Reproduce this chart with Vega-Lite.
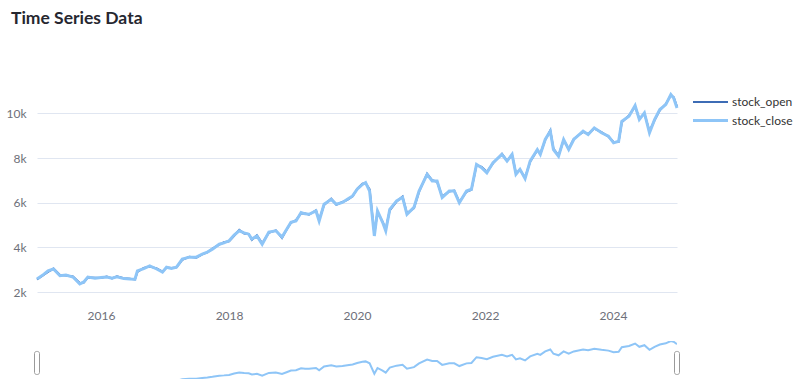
{
  "$schema": "https://vega.github.io/schema/vega-lite/v6.json",
  "background": "white",
  "padding": {"left": 5, "top": 10, "right": 0, "bottom": 0},
  "title": {"text": "Time Series Data", "anchor": "start", "font": "Lato", "fontSize": 17.5, "fontWeight": "bold", "color": "#262730", "offset": 61, "dx": 5},
  "config": {"view": {"stroke": null}, "font": "Lato"},
  "spacing": 20,
  "datasets": {
    "stock": [
      {"date": "2015-01-01", "stock_open": 2560, "stock_close": 2580},
      {"date": "2015-02-10", "stock_open": 2780, "stock_close": 2800},
      {"date": "2015-03-05", "stock_open": 2900, "stock_close": 2950},
      {"date": "2015-04-05", "stock_open": 3050, "stock_close": 3030},
      {"date": "2015-05-12", "stock_open": 2760, "stock_close": 2730},
      {"date": "2015-06-15", "stock_open": 2740, "stock_close": 2760},
      {"date": "2015-07-25", "stock_open": 2700, "stock_close": 2670},
      {"date": "2015-09-02", "stock_open": 2400, "stock_close": 2360},
      {"date": "2015-09-25", "stock_open": 2420, "stock_close": 2450},
      {"date": "2015-10-18", "stock_open": 2650, "stock_close": 2670},
      {"date": "2015-11-28", "stock_open": 2640, "stock_close": 2620},
      {"date": "2016-01-01", "stock_open": 2630, "stock_close": 2650},
      {"date": "2016-02-03", "stock_open": 2690, "stock_close": 2670},
      {"date": "2016-03-04", "stock_open": 2610, "stock_close": 2620},
      {"date": "2016-04-01", "stock_open": 2700, "stock_close": 2680},
      {"date": "2016-05-10", "stock_open": 2620, "stock_close": 2600},
      {"date": "2016-06-15", "stock_open": 2590, "stock_close": 2580},
      {"date": "2016-07-13", "stock_open": 2560, "stock_close": 2570},
      {"date": "2016-07-27", "stock_open": 2900, "stock_close": 2950},
      {"date": "2016-09-01", "stock_open": 3080, "stock_close": 3050},
      {"date": "2016-10-05", "stock_open": 3140, "stock_close": 3170},
      {"date": "2016-11-14", "stock_open": 3060, "stock_close": 3030},
      {"date": "2016-12-17", "stock_open": 2910, "stock_close": 2890},
      {"date": "2017-01-09", "stock_open": 3090, "stock_close": 3110},
      {"date": "2017-02-06", "stock_open": 3070, "stock_close": 3050},
      {"date": "2017-03-07", "stock_open": 3100, "stock_close": 3110},
      {"date": "2017-04-09", "stock_open": 3440, "stock_close": 3470},
      {"date": "2017-05-19", "stock_open": 3580, "stock_close": 3560},
      {"date": "2017-06-28", "stock_open": 3540, "stock_close": 3560},
      {"date": "2017-08-01", "stock_open": 3690, "stock_close": 3700},
      {"date": "2017-08-30", "stock_open": 3770, "stock_close": 3790},
      {"date": "2017-09-28", "stock_open": 3940, "stock_close": 3920},
      {"date": "2017-11-06", "stock_open": 4120, "stock_close": 4140},
      {"date": "2017-12-03", "stock_open": 4230, "stock_close": 4200},
      {"date": "2018-01-01", "stock_open": 4270, "stock_close": 4290},
      {"date": "2018-01-30", "stock_open": 4520, "stock_close": 4550},
      {"date": "2018-02-28", "stock_open": 4780, "stock_close": 4740},
      {"date": "2018-03-28", "stock_open": 4620, "stock_close": 4650},
      {"date": "2018-04-23", "stock_open": 4600, "stock_close": 4590},
      {"date": "2018-05-11", "stock_open": 4330, "stock_close": 4370},
      {"date": "2018-06-09", "stock_open": 4540, "stock_close": 4510},
      {"date": "2018-07-09", "stock_open": 4180, "stock_close": 4140},
      {"date": "2018-08-16", "stock_open": 4650, "stock_close": 4680},
      {"date": "2018-09-25", "stock_open": 4760, "stock_close": 4740},
      {"date": "2018-10-30", "stock_open": 4420, "stock_close": 4460},
      {"date": "2018-11-25", "stock_open": 4790, "stock_close": 4800},
      {"date": "2018-12-20", "stock_open": 5100, "stock_close": 5120},
      {"date": "2019-01-18", "stock_open": 5220, "stock_close": 5180},
      {"date": "2019-02-16", "stock_open": 5530, "stock_close": 5560},
      {"date": "2019-03-11", "stock_open": 5520, "stock_close": 5500},
      {"date": "2019-04-02", "stock_open": 5460, "stock_close": 5480},
      {"date": "2019-05-12", "stock_open": 5660, "stock_close": 5630},
      {"date": "2019-05-30", "stock_open": 5220, "stock_close": 5180},
      {"date": "2019-06-27", "stock_open": 5900, "stock_close": 5930},
      {"date": "2019-08-07", "stock_open": 6180, "stock_close": 6150},
      {"date": "2019-09-05", "stock_open": 5910, "stock_close": 5930},
      {"date": "2019-10-10", "stock_open": 6030, "stock_close": 6010},
      {"date": "2019-11-07", "stock_open": 6120, "stock_close": 6150},
      {"date": "2019-12-07", "stock_open": 6280, "stock_close": 6300},
      {"date": "2020-01-02", "stock_open": 6620, "stock_close": 6600},
      {"date": "2020-02-01", "stock_open": 6850, "stock_close": 6820},
      {"date": "2020-02-19", "stock_open": 6880, "stock_close": 6900},
      {"date": "2020-03-13", "stock_open": 6600, "stock_close": 6520},
      {"date": "2020-04-09", "stock_open": 4600, "stock_close": 4510},
      {"date": "2020-04-27", "stock_open": 5580, "stock_close": 5630},
      {"date": "2020-05-26", "stock_open": 5150, "stock_close": 5120},
      {"date": "2020-06-13", "stock_open": 4820, "stock_close": 4740},
      {"date": "2020-07-06", "stock_open": 5660, "stock_close": 5700},
      {"date": "2020-08-14", "stock_open": 6050, "stock_close": 6080},
      {"date": "2020-09-17", "stock_open": 6270, "stock_close": 6240},
      {"date": "2020-10-12", "stock_open": 5520, "stock_close": 5480},
      {"date": "2020-11-21", "stock_open": 5760, "stock_close": 5790},
      {"date": "2020-12-20", "stock_open": 6480, "stock_close": 6520},
      {"date": "2021-02-04", "stock_open": 7300, "stock_close": 7270},
      {"date": "2021-03-05", "stock_open": 7000, "stock_close": 6970},
      {"date": "2021-04-02", "stock_open": 6940, "stock_close": 6970},
      {"date": "2021-05-01", "stock_open": 6270, "stock_close": 6230},
      {"date": "2021-06-10", "stock_open": 6500, "stock_close": 6520},
      {"date": "2021-07-09", "stock_open": 6540, "stock_close": 6520},
      {"date": "2021-08-07", "stock_open": 6030, "stock_close": 6000},
      {"date": "2021-09-17", "stock_open": 6490, "stock_close": 6520},
      {"date": "2021-10-15", "stock_open": 6580, "stock_close": 6600},
      {"date": "2021-11-13", "stock_open": 7680, "stock_close": 7710},
      {"date": "2021-12-12", "stock_open": 7600, "stock_close": 7570},
      {"date": "2022-01-11", "stock_open": 7380, "stock_close": 7340},
      {"date": "2022-02-15", "stock_open": 7760, "stock_close": 7790},
      {"date": "2022-04-07", "stock_open": 8190, "stock_close": 8160},
      {"date": "2022-05-06", "stock_open": 7880, "stock_close": 7860},
      {"date": "2022-06-04", "stock_open": 8130, "stock_close": 8160},
      {"date": "2022-06-26", "stock_open": 7320, "stock_close": 7270},
      {"date": "2022-07-19", "stock_open": 7460, "stock_close": 7490},
      {"date": "2022-08-17", "stock_open": 7120, "stock_close": 7080},
      {"date": "2022-09-15", "stock_open": 7830, "stock_close": 7860},
      {"date": "2022-10-26", "stock_open": 8350, "stock_close": 8380},
      {"date": "2022-11-12", "stock_open": 8200, "stock_close": 8160},
      {"date": "2022-12-10", "stock_open": 8800, "stock_close": 8830},
      {"date": "2023-01-08", "stock_open": 9240, "stock_close": 9200},
      {"date": "2023-01-26", "stock_open": 8420, "stock_close": 8380},
      {"date": "2023-02-24", "stock_open": 8110, "stock_close": 8080},
      {"date": "2023-03-25", "stock_open": 8800, "stock_close": 8830},
      {"date": "2023-04-23", "stock_open": 8410, "stock_close": 8380},
      {"date": "2023-05-22", "stock_open": 8860, "stock_close": 8830},
      {"date": "2023-07-14", "stock_open": 9170, "stock_close": 9200},
      {"date": "2023-08-12", "stock_open": 9080, "stock_close": 9050},
      {"date": "2023-09-16", "stock_open": 9320, "stock_close": 9350},
      {"date": "2023-10-27", "stock_open": 9160, "stock_close": 9130},
      {"date": "2023-12-06", "stock_open": 8950, "stock_close": 8980},
      {"date": "2024-01-04", "stock_open": 8720, "stock_close": 8680},
      {"date": "2024-02-02", "stock_open": 8730, "stock_close": 8750},
      {"date": "2024-02-20", "stock_open": 9600, "stock_close": 9640},
      {"date": "2024-04-01", "stock_open": 9900, "stock_close": 9870},
      {"date": "2024-05-06", "stock_open": 10310, "stock_close": 10350},
      {"date": "2024-05-30", "stock_open": 9760, "stock_close": 9720},
      {"date": "2024-06-28", "stock_open": 9990, "stock_close": 10020},
      {"date": "2024-07-27", "stock_open": 9200, "stock_close": 9130},
      {"date": "2024-08-25", "stock_open": 9690, "stock_close": 9720},
      {"date": "2024-09-24", "stock_open": 10140, "stock_close": 10170},
      {"date": "2024-10-28", "stock_open": 10420, "stock_close": 10390},
      {"date": "2024-11-26", "stock_open": 10800, "stock_close": 10840},
      {"date": "2024-12-12", "stock_open": 10720, "stock_close": 10690},
      {"date": "2024-12-31", "stock_open": 10300, "stock_close": 10240}
    ],
    "ends": [
      {"date": "2015-01-01"},
      {"date": "2024-12-31"}
    ]
  },
  "vconcat": [
    {
      "width": 640,
      "height": 201,
      "data": {"name": "stock"},
      "transform": [{"fold": ["stock_open", "stock_close"], "as": ["series", "value"]}],
      "mark": {"type": "line"},
      "encoding": {
        "x": {
          "field": "date", "type": "temporal",
          "axis": {"title": null, "format": "%Y", "tickCount": {"interval": "year", "step": 2}, "grid": false, "domain": false, "ticks": false, "labelPadding": 18, "labelFontSize": 12, "labelColor": "#6e7079", "labelFont": "Lato"}
        },
        "y": {
          "field": "value", "type": "quantitative",
          "scale": {"domain": [2000, 11000], "nice": false, "zero": false},
          "axis": {"title": null, "values": [2000, 4000, 6000, 8000, 10000], "format": "~s", "domain": false, "ticks": false, "grid": true, "gridColor": "#E0E6F1", "gridWidth": 1, "labelPadding": 11, "labelFontSize": 12, "labelColor": "#6e7079", "labelFont": "Lato"}
        },
        "color": {
          "field": "series", "type": "nominal",
          "scale": {"domain": ["stock_open", "stock_close"], "range": ["#3d6cb5", "#8ec5f7"]},
          "legend": {"title": null, "orient": "right", "offset": 16, "padding": 0, "symbolType": "M-1.75,0H1.75", "symbolSize": 400, "symbolStrokeWidth": 3, "labelFontSize": 12, "labelColor": "#333333", "labelFont": "Lato", "labelOffset": 10, "rowPadding": 1}
        },
        "strokeWidth": {
          "field": "series", "type": "nominal",
          "scale": {"domain": ["stock_open", "stock_close"], "range": [2, 3]},
          "legend": null
        }
      }
    },
    {
      "width": 640,
      "height": 38,
      "layer": [
        {
          "data": {"name": "stock"},
          "mark": {"type": "line", "color": "#8ec5f7", "strokeWidth": 2, "clip": true},
          "encoding": {
            "x": {"field": "date", "type": "temporal", "axis": null},
            "y": {"field": "stock_close", "type": "quantitative", "scale": {"domain": [3500, 10840], "zero": false, "nice": false}, "axis": null}
          }
        },
        {
          "data": {"name": "ends"},
          "mark": {"type": "rect", "width": 5, "height": 23, "fill": "white", "stroke": "#9a9a9a", "strokeWidth": 1, "cornerRadius": 2},
          "encoding": {
            "x": {"field": "date", "type": "temporal"},
            "y": {"datum": 6600}
          }
        }
      ]
    }
  ]
}
